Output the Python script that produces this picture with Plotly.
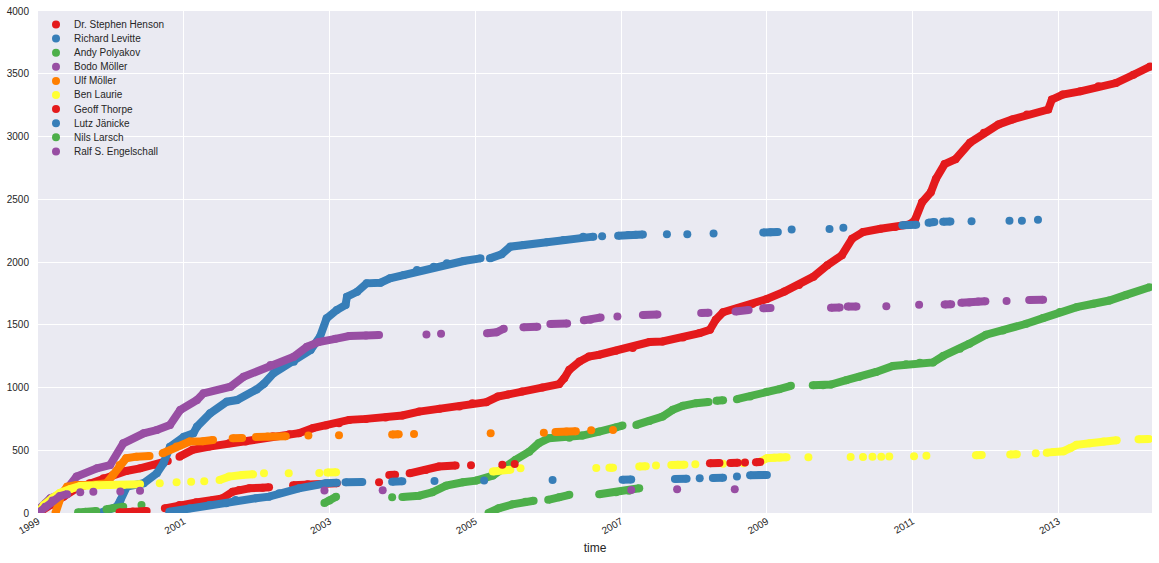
import datetime as dt
import plotly.graph_objects as go

# cumulative commits per author
# times are decimal years, None = gap between separate runs of points
henson_t = [1999.0, 1999.03, 1999.17, 1999.35, 1999.53, 1999.71, 1999.9, 2000.03, 2000.21, 2000.4, 2000.62, 2000.78, None,
            2000.94, 2001.12, 2001.35, 2001.62, 2001.85, 2002.03, 2002.22, 2002.45, 2002.58, 2002.77, 2002.95, 2003.13,
            2003.27, 2003.5, 2003.77, 2004.0, 2004.23, 2004.51, 2004.78, 2004.96, 2005.15, 2005.31, 2005.45, 2005.64,
            2005.92, 2006.15, 2006.22, 2006.29, 2006.43, 2006.56, 2006.7, 2006.93, 2007.16, 2007.39, 2007.57, 2007.85,
            2008.08, 2008.22, 2008.3, 2008.4, 2008.6, 2008.8, 2009.0, 2009.24, 2009.44, 2009.64, 2009.83, 2010.03,
            2010.17, 2010.32, 2010.56, 2010.76, 2010.96, 2011.03, 2011.13, 2011.25, 2011.32, 2011.44, 2011.59, 2011.79,
            2011.98, 2012.18, 2012.37, 2012.57, 2012.86, 2012.91, 2013.06, 2013.3, 2013.55, 2013.79, 2014.03, 2014.26]
henson_n = [0, 10, 64, 130, 197, 237, 277, 303, 335, 356, 383, 415, None,
            449, 503, 529, 556, 569, 596, 612, 628, 636, 676, 697, 715,
            742, 750, 761, 777, 808, 830, 848, 875, 883, 928, 945, 968,
            1000, 1027, 1074, 1141, 1207, 1247, 1261, 1293, 1314, 1362, 1367, 1399,
            1434, 1460, 1540, 1600, 1630, 1665, 1705, 1764, 1817, 1883, 1975, 2054,
            2186, 2239, 2265, 2278, 2300, 2331, 2476, 2555, 2661, 2780, 2819, 2951,
            3030, 3096, 3136, 3175, 3215, 3294, 3334, 3360, 3400, 3426, 3492, 3558]

levitte_t = [1999.85, 1999.95, 2000.08, 2000.13, 2000.22, 2000.45, 2000.63, 2000.72, 2000.81, 2001.0, 2001.13, 2001.18,
             2001.36, 2001.59, 2001.73, 2002.0, 2002.1, 2002.23, 2002.51, 2002.74, 2002.87, 2002.96, 2003.1, 2003.22,
             2003.24, 2003.38, 2003.51, 2003.7, 2003.83, 2004.02, 2004.2, 2004.43, 2004.61, 2004.84, 2005.07, None,
             2005.2, 2005.36, 2005.48, 2005.66, 2005.98, 2006.21, 2006.48, 2006.62, None, 2006.74, None, 2006.96,
             2007.1, 2007.2, 2007.3, None, 2007.63, None, 2007.91, None, 2008.27, None, 2008.95, 2009.05, 2009.15, None,
             2009.34, None, 2009.86, None, 2010.05, None, 2010.86, 2010.95, 2011.05, None, 2011.22, 2011.3, None,
             2011.42, 2011.52, None, 2011.81, None, 2012.33, None, 2012.5, None, 2012.72]
levitte_n = [0, 16, 50, 100, 210, 237, 316, 396, 528, 608, 635, 688,
             794, 887, 900, 985, 1030, 1113, 1206, 1299, 1405, 1551, 1618, 1657,
             1724, 1763, 1830, 1835, 1870, 1896, 1936, 1963, 1990, 2008, 2029, None,
             2029, 2061, 2122, 2135, 2157, 2175, 2202, 2202, None, 2205, None, 2210,
             2215, 2218, 2220, None, 2222, None, 2222, None, 2228, None, 2236, 2238, 2240, None,
             2258, None, 2263, None, 2272, None, 2292, 2295, 2297, None, 2312, 2318, None,
             2320, 2323, None, 2325, None, 2328, None, 2328, None, 2336]

polyakov_t = [1999.55, 1999.65, 1999.8, None, 1999.94, 2000.05, 2000.17, None, 2000.42, None, 2002.93, 2003.0, 2003.09,
              None, 2003.86, None, 2004.0, 2004.23, 2004.41, 2004.6, 2004.83, 2005.01, 2005.24, 2005.37, 2005.55,
              2005.74, 2005.87, 2006.01, 2006.29, 2006.47, 2006.7, 2006.93, 2007.02, None, 2007.21, 2007.39, 2007.57,
              2007.71, 2007.85, 2008.03, 2008.2, None, 2008.31, 2008.4, None, 2008.59, 2008.77, 2009.0, 2009.17,
              2009.33, None, 2009.63, 2009.77, 2009.88, 2010.09, 2010.27, 2010.5, 2010.73, 2010.91, 2011.1, 2011.28,
              2011.42, 2011.65, 2011.78, 2012.01, 2012.24, 2012.56, 2012.79, 2013.02, 2013.25, 2013.48, 2013.7,
              2013.93, 2014.25]
polyakov_n = [5, 10, 16, None, 30, 40, 50, None, 64, None, 80, 100, 130,
              None, 125, None, 128, 138, 165, 218, 245, 258, 298, 356, 423,
              489, 556, 596, 600, 617, 649, 681, 697, None, 702, 734, 769,
              822, 854, 875, 885, None, 894, 898, None, 907, 928, 966, 987,
              1013, None, 1018, 1018, 1024, 1058, 1085, 1124, 1172, 1185, 1198, 1200,
              1251, 1309, 1349, 1421, 1455, 1508, 1553, 1601, 1640, 1667, 1693,
              1738, 1799]

bodo_t = [1999.0, 1999.17, 1999.35, 1999.53, 1999.81, 1999.99, 2000.17, 2000.45, 2000.63, 2000.81, 2000.95, 2001.18,
          2001.27, 2001.64, 2001.82, 2002.19, 2002.51, 2002.69, 2002.85, 2003.08, 2003.27, 2003.5, 2003.68, None,
          2004.33, None, 2004.53, None, 2005.16, 2005.29, 2005.39, None, 2005.66, 2005.85, None, 2006.03, 2006.26,
          None, 2006.49, 2006.58, 2006.72, None, 2006.95, None, 2007.3, 2007.5, None, 2008.1, 2008.2, None, 2008.57,
          2008.75, None, 2008.95, 2009.05, None, 2009.88, 2010.0, None, 2010.11, 2010.23, None, 2010.64, None,
          2011.09, None, 2011.44, 2011.53, None, 2011.67, 2011.78, 2011.9, 2012.0, None, 2012.29, None, 2012.6,
          2012.79]
bodo_n = [25, 117, 157, 290, 356, 382, 555, 635, 661, 701, 821, 900,
          954, 1006, 1086, 1180, 1245, 1325, 1362, 1388, 1410, 1415, 1418, None,
          1423, None, 1428, None, 1433, 1440, 1468, None, 1481, 1485, None, 1505, 1510,
          None, 1535, 1540, 1558, None, 1566, None, 1578, 1582, None, 1594, 1596, None, 1605,
          1617, None, 1632, 1634, None, 1635, 1637, None, 1645, 1645, None, 1648, None,
          1659, None, 1661, 1663, None, 1675, 1678, 1685, 1688, None, 1690, None, 1698,
          1700]

ulf_t = [1999.24, 1999.28, 1999.33, 1999.4, 1999.53, 1999.76, 1999.94, 2000.03, 2000.12, 2000.21, 2000.35, 2000.53,
         None, 2000.71, 2000.9, 2001.08, 2001.26, 2001.4, None, 2001.67, 2001.8, None, 2001.99, 2002.15, 2002.4, None,
         2002.71, None, 2003.13, None, 2003.86, 2003.95, None, 2004.16, None, 2005.21, None, 2005.94, None, 2006.1,
         2006.25, 2006.38, None, 2006.59, None, 2006.89]
ulf_n = [0, 90, 157, 210, 223, 225, 237, 303, 383, 436, 449, 455,
         None, 476, 529, 569, 572, 582, None, 596, 598, None, 605, 609, 612, None,
         617, None, 620, None, 626, 628, None, 630, None, 636, None, 640, None, 645,
         649, 652, None, 660, None, 662]

laurie_t = [1999.0, 1999.08, 1999.2, 1999.3, 1999.44, 1999.58, 1999.8, 1999.99, 2000.17, 2000.4, None, 2000.67, None,
            2000.9, None, 2001.1, None, 2001.28, None, 2001.49, 2001.62, 2001.8, 2001.95, None, 2002.1, None, 2002.44,
            None, 2002.86, None, 2002.97, 2003.09, None, 2005.24, 2005.37, 2005.48, None, 2005.62, None, 2006.66, None,
            2006.84, 2006.89, None, 2007.25, 2007.34, None, 2007.48, None, 2007.69, 2007.78, 2007.87, None, 2008.02,
            None, 2008.4, None, 2008.68, None, 2008.91, 2009.0, 2009.1, 2009.18, 2009.27, None, 2009.57, None, 2010.15,
            None, 2010.32, None, 2010.45, None, 2010.57, None, 2010.68, None, 2011.02, None, 2011.19, None, 2011.87,
            2011.95, None, 2012.34, 2012.43, None, 2012.69, None, 2012.84, 2012.93, 2013.07, 2013.16, 2013.25, 2013.43,
            2013.62, 2013.8, None, 2014.1, 2014.24]
laurie_n = [0, 64, 120, 160, 190, 215, 222, 223, 224, 229, None, 237, None,
            245, None, 250, None, 252, None, 263, 290, 303, 308, None, 316, None, 316,
            None, 318, None, 322, 324, None, 330, 343, 345, None, 356, None, 358, None,
            360, 361, None, 370, 372, None, 378, None, 383, 384, 385, None, 388,
            None, 392, None, 396, None, 409, 436, 440, 442, 444, None, 445, None, 446,
            None, 447, None, 448, None, 449, None, 450, None, 452, None, 457, None, 460,
            462, None, 466, 468, None, 476, None, 481, 486, 492, 516, 543, 556,
            569, 580, None, 588, 590]

thorpe_t = [2000.12, 2000.3, 2000.49, None, 2000.74, 2000.94, 2001.17, 2001.4, 2001.53, 2001.67, 2001.76, 2001.9,
            2002.08, 2002.17, None, 2002.5, 2002.7, 2003.1, None, 2003.68, None, 2003.82, 2003.9, None, 2004.1,
            2004.32, 2004.5, 2004.73, None, 2004.94, None, 2005.37, None, 2005.54, None, 2008.22, 2008.35, None,
            2008.5, 2008.6, None, 2008.7, None, 2008.85, 2008.91]
thorpe_n = [5, 12, 16, None, 37, 64, 85, 104, 117, 170, 183, 197,
            202, 205, None, 222, 230, 237, None, 245, None, 303, 305, None, 316,
            343, 370, 378, None, 380, None, 385, None, 390, None, 396, 398, None,
            399, 400, None, 402, None, 405, 406]

jaenicke_t = [2000.8, 2001.08, 2001.35, 2001.58, 2001.71, 2001.99, 2002.17, 2002.31, 2002.58, 2002.95, 2003.1, None,
              2003.22, 2003.45, None, 2003.86, 2004.0, None, 2004.44, None, 2005.12, None, 2006.06, None, 2007.02,
              2007.14, None, 2007.74, 2007.9, None, 2008.08, None, 2008.26, 2008.4, None, 2008.59, None, 2008.77,
              2008.9, 2009.0]
jaenicke_n = [10, 37, 64, 77, 104, 117, 130, 157, 197, 237, 242, None,
              245, 247, None, 250, 252, None, 255, None, 258, None, 263, None, 265,
              267, None, 271, 272, None, 277, None, 278, 280, None, 290, None, 300,
              302, 303]

larsch_t = [2005.18, 2005.32, 2005.51, 2005.69, 2005.8, None, 2006.0, 2006.15, 2006.29, None, 2006.7, 2006.93,
            2007.11, 2007.25]
larsch_n = [0, 37, 69, 90, 98, None, 105, 125, 145, None, 150, 165,
            178, 197]

engelschall_t = [1999.0, 1999.1, 1999.2, 1999.3, 1999.4, None, 1999.58, None, 1999.76, None, 2000.13, None, 2000.4,
                 None, 2002.93, None, 2003.73, None, 2007.14, None, 2007.77, None, 2008.56]
engelschall_n = [0, 50, 100, 135, 150, None, 165, None, 170, None, 172, None, 178,
                 None, 180, None, 182, None, 183, None, 189, None, 190]

authors = ["Dr. Stephen Henson", "Richard Levitte", "Andy Polyakov", "Bodo Möller", "Ulf Möller",
           "Ben Laurie", "Geoff Thorpe", "Lutz Jänicke", "Nils Larsch", "Ralf S. Engelschall"]
series = [(henson_t, henson_n), (levitte_t, levitte_n), (polyakov_t, polyakov_n), (bodo_t, bodo_n),
          (ulf_t, ulf_n), (laurie_t, laurie_n), (thorpe_t, thorpe_n), (jaenicke_t, jaenicke_n),
          (larsch_t, larsch_n), (engelschall_t, engelschall_n)]

# Set1 palette, cycling after six
palette = ["#e41a1c", "#377eb8", "#4daf4a", "#984ea3", "#ff7f00", "#ffff33"]

W, H = 1159, 563
L, R, T, B = 38, 7, 11, 50


def to_date(y):
    if y is None:
        return None
    yr = int(y)
    start = dt.datetime(yr, 1, 1)
    return start + (dt.datetime(yr + 1, 1, 1) - start) * (y - yr)


fig = go.Figure()
for i, (name, (t, n)) in enumerate(zip(authors, series)):
    color = palette[i % len(palette)]
    x = [to_date(v) for v in t]
    # dense runs drawn as thick strokes, then the dots on top
    fig.add_trace(go.Scatter(
        x=x, y=n, mode="lines", connectgaps=False,
        line=dict(color=color, width=8),
        showlegend=False, hoverinfo="skip"
    ))
    fig.add_trace(go.Scatter(
        x=x, y=n, mode="markers", name=name, showlegend=False,
        marker=dict(color=color, size=8, line=dict(width=0))
    ))

# legend drawn by hand (matplotlib spacing is tighter than plotly's legend allows)
plot_w = W - L - R
plot_h = H - T - B
for i, name in enumerate(authors):
    color = palette[i % len(palette)]
    py = 24.5 + 14.1 * i  # pixel row from the top of the page
    yp = 1 - (py - T) / plot_h
    fig.add_shape(type="circle", xref="paper", yref="paper",
                  xsizemode="pixel", ysizemode="pixel",
                  xanchor=(56 - L) / plot_w, yanchor=yp,
                  x0=-4, x1=4, y0=-4, y1=4,
                  fillcolor=color, line=dict(width=0))
    fig.add_annotation(xref="paper", yref="paper", x=(72 - L) / plot_w, y=yp,
                       xanchor="left", yanchor="middle", text=name, showarrow=False,
                       font=dict(size=10, color="#262626"))

fig.update_layout(
    width=W, height=H,
    margin=dict(l=L, r=R, t=T, b=B),
    paper_bgcolor="white",
    plot_bgcolor="#EAEAF2",
    font=dict(family="Liberation Sans, Arial, sans-serif", size=10, color="#262626"),
    showlegend=False,
    xaxis=dict(
        range=[to_date(1999.0), to_date(2014.285)],
        tick0="1999-01-01", dtick="M24", tickformat="%Y", tickangle=-30,
        showgrid=True, gridcolor="white", gridwidth=1, zeroline=False, showline=False,
        ticks="", automargin=False, tickfont=dict(size=10),
        title=dict(text="time", font=dict(size=12), standoff=8),
    ),
    yaxis=dict(
        range=[0, 4000], dtick=500, showgrid=True, gridcolor="white", gridwidth=1,
        zeroline=False, showline=False, ticks="", ticklabelstandoff=8, automargin=False,
        tickfont=dict(size=10),
    ),
)

# the page body has a default 8px margin; drop it so the figure fills the window
fig.write_html("out.html", config={"displayModeBar": False},
               post_script="document.body.style.margin='0px';")
